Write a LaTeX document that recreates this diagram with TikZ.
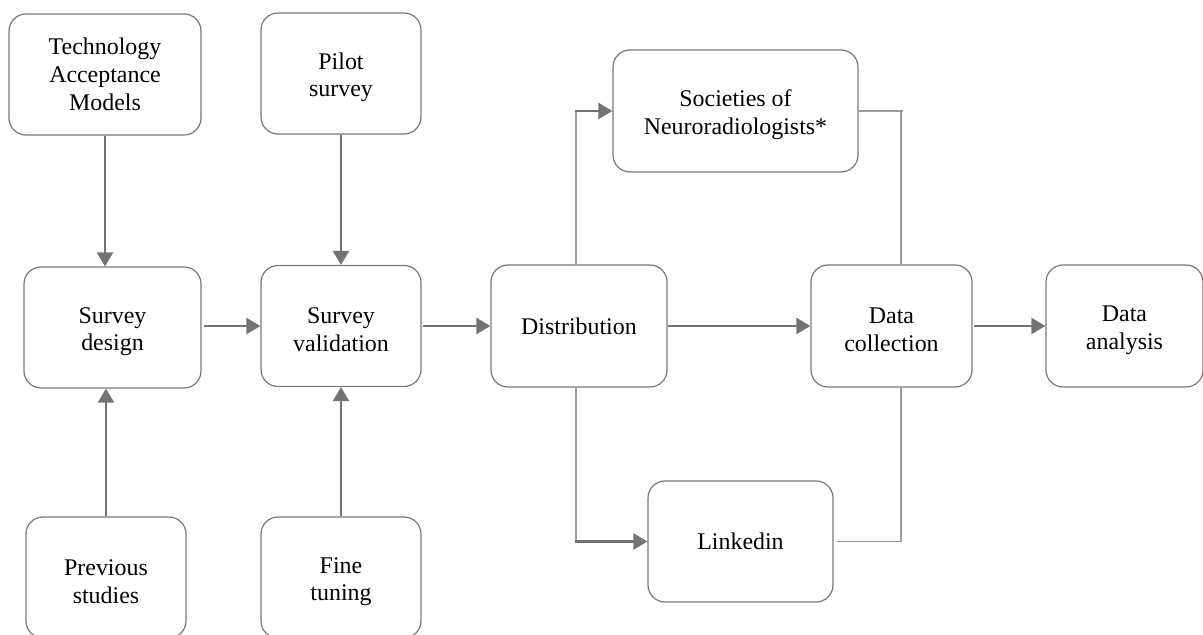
\documentclass[tikz,border=0pt]{standalone}
\usepackage{fontspec}
\setmainfont{Liberation Serif}
\usepackage{tikz}
\usetikzlibrary{arrows.meta}
\definecolor{boxgray}{RGB}{120,120,120}
\definecolor{arrowgray}{RGB}{118,114,114}
\definecolor{linkgray}{RGB}{155,155,155}

\begin{document}
\begin{tikzpicture}[x=1bp,y=-1bp,
  stage/.style={draw=boxgray,line width=1.2bp,rounded corners=17bp,align=center,
    inner sep=0pt,font=\fontsize{24}{28}\selectfont},
  lowtext/.style={text height=52bp},
  flow/.style={draw=arrowgray,line width=2.6bp,-{Triangle[length=14bp,width=16bp]}},
  tie/.style={draw=linkgray,line width=1.6bp}]
\useasboundingbox (0,0) rectangle (1203,635);

\node[stage,minimum width=192bp,minimum height=121bp] (tam) at (105,74.5) {Technology\\Acceptance\\Models};
\node[stage,lowtext,minimum width=160bp,minimum height=121bp] (pilot) at (341,73.5) {Pilot\\survey};
\node[stage,lowtext,minimum width=177bp,minimum height=121bp] (design) at (112.5,327.5) {Survey\\design};
\node[stage,lowtext,minimum width=160bp,minimum height=121bp] (valid) at (341,326) {Survey\\validation};
\node[stage,lowtext,minimum width=160bp,minimum height=121bp] (prev) at (106,577.5) {Previous\\studies};
\node[stage,lowtext,minimum width=160bp,minimum height=121bp] (fine) at (341,577.5) {Fine\\tuning};
\node[stage,minimum width=176bp,minimum height=122bp] (dist) at (579,326) {Distribution};
\node[stage,lowtext,minimum width=245bp,minimum height=122bp] (soc) at (735.5,111) {Societies of\\Neuroradiologists*};
\node[stage,minimum width=185bp,minimum height=121bp] (link) at (740.5,541.5) {Linkedin};
\node[stage,lowtext,minimum width=161bp,minimum height=122bp] (coll) at (891.5,326) {Data\\collection};
\node[stage,lowtext,minimum width=157bp,minimum height=122bp] (anal) at (1124.5,326) {Data\\analysis};

\coordinate (up) at (576,111);
\coordinate (down) at (576,541.5);
\coordinate (ne) at (901,111);
\coordinate (se) at (901,541.5);

\draw[flow] (tam.south) -- (tam.south |- design.north);
\draw[flow] (prev.north) -- (prev.north |- design.south);
\draw[flow] (pilot.south) -- (valid.north);
\draw[flow] (fine.north) -- (valid.south);
\draw[flow] ([xshift=2bp]design.east |- valid.west) -- (valid.west);
\draw[flow] ([xshift=1bp]valid.east) -- (dist.west);
\draw[flow] (dist.east) -- (coll.west);
\draw[flow] ([xshift=1bp]coll.east) -- (anal.west);

\draw[tie] (up |- dist.north) -- (up);
\draw[flow] ([xshift=-1bp]up) -- (soc.west);
\draw[tie] (down |- dist.south) -- (down);
\draw[flow] ([xshift=-1bp]down) -- (link.west);
\draw[tie] (soc.east) -- ([xshift=2bp]ne);
\draw[tie] (ne) -- (ne |- coll.north);
\draw[tie] (ne |- coll.south) -- (se) -- ([xshift=3bp]link.east);
\end{tikzpicture}
\end{document}
